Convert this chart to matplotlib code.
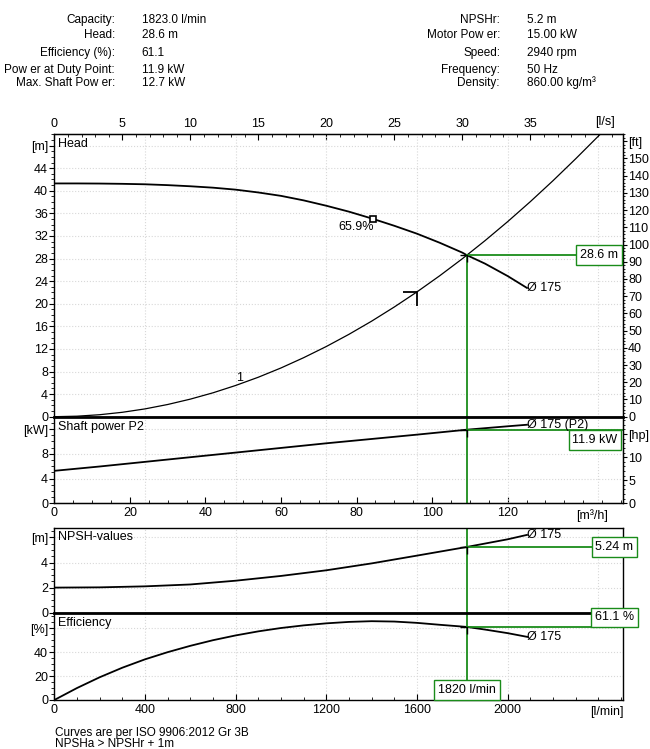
import numpy as np
import matplotlib.pyplot as plt
from matplotlib.path import Path
from matplotlib.ticker import MultipleLocator

plt.rcParams['font.family'] = ['Liberation Sans', 'DejaVu Sans']
plt.rcParams['font.size'] = 9

W_PX, H_PX = 650, 749
GREEN = '#1a8c1a'

# header block
labels_left = ['Capacity:', 'Head:', 'Efficiency (%):', 'Pow er at Duty Point:', 'Max. Shaft Pow er:']
values_left = ['1823.0 l/min', '28.6 m', '61.1', '11.9 kW', '12.7 kW']
labels_right = ['NPSHr:', 'Motor Pow er:', 'Speed:', 'Frequency:', 'Density:']
values_right = ['5.2 m', '15.00 kW', '2940 rpm', '50 Hz', '860.00 kg/m³']

# duty point and best efficiency point (flow in l/min)
duty_q = 1820
duty_head = 28.6
duty_power = 11.9
duty_npsh = 5.24
duty_eff = 61.1
bep_q, bep_head = 1408, 35.0

# pump curves, impeller 175 mm
q_head = [0, 100, 200, 300, 400, 500, 600, 700, 800, 900, 1000, 1100, 1200, 1300,
          1400, 1500, 1600, 1700, 1800, 1820, 1900, 2000, 2085]
head = [41.3, 41.3, 41.28, 41.23, 41.15, 41.0, 40.8, 40.55, 40.2, 39.7, 39.1, 38.3,
        37.35, 36.3, 35.1, 33.8, 32.4, 30.8, 29.05, 28.6, 27.1, 24.9, 22.8]
q_pow = [0, 200, 400, 600, 800, 1000, 1200, 1400, 1600, 1820, 2000, 2085]
power = [5.25, 5.95, 6.7, 7.45, 8.2, 8.95, 9.7, 10.4, 11.1, 11.9, 12.45, 12.7]
q_npsh = [0, 200, 400, 600, 800, 1000, 1200, 1400, 1600, 1820, 2000, 2085]
npsh = [2.0, 2.02, 2.1, 2.25, 2.55, 2.93, 3.38, 3.93, 4.55, 5.24, 5.85, 6.2]
q_eff = [0, 100, 200, 300, 400, 500, 600, 700, 800, 900, 1000, 1100, 1200, 1300,
         1400, 1500, 1600, 1700, 1820, 1900, 2000, 2086]
eff = [0, 10, 19, 27, 34, 40, 45.3, 50, 54, 57.4, 60.2, 62.4, 64.1, 65.3,
       65.9, 65.6, 64.5, 62.9, 61.1, 58.9, 55.9, 52.8]

# system curve "1"
q_sys = [0, 100, 200, 300, 400, 500, 600, 700, 800, 900, 1000, 1100, 1200, 1300,
         1400, 1500, 1600, 1700, 1800, 1900, 2000, 2100, 2200, 2300, 2408]
h_sys = [0, 0.09, 0.35, 0.78, 1.38, 2.16, 3.11, 4.23, 5.53, 6.99, 8.63, 10.45, 12.43,
         14.59, 16.92, 19.43, 22.1, 24.95, 27.97, 31.17, 34.54, 38.08, 41.79, 45.67, 50.0]

QMAX = 2510

fig = plt.figure(figsize=(W_PX / 100, H_PX / 100), dpi=100)


def px_rect(top, bottom, left=54.3, right=623.3):
    return [left / W_PX, 1 - bottom / H_PX, (right - left) / W_PX, (bottom - top) / H_PX]


def style(ax, ymax, step, top_tick, unit, minor):
    ax.set_xlim(0, QMAX)
    ax.set_ylim(0, ymax)
    ax.set_xticks(np.arange(0, 2401, 400))
    ax.tick_params(axis='x', which='both', bottom=False, top=False, labelbottom=False)
    ticks = np.arange(0, top_tick + step / 2, step)
    ax.set_yticks(ticks)
    ax.set_yticklabels(['%g' % t for t in ticks[:-1]] + [unit])
    ax.yaxis.set_minor_locator(MultipleLocator(minor))
    ax.tick_params(axis='y', which='major', direction='out', length=3.5, width=0.8, pad=1)
    ax.tick_params(axis='y', which='minor', direction='out', length=2, width=0.6)
    ax.grid(True, color='#d8d8d8', linestyle=':', linewidth=0.8)
    ax.set_axisbelow(True)
    for s in ax.spines.values():
        s.set_linewidth(1.0)


corner = Path([(-1, 0), (0, 0), (0, -1)], [Path.MOVETO, Path.LINETO, Path.LINETO])
box = dict(boxstyle='square,pad=0.3', fc='white', ec=GREEN, lw=1)

# ---------------- Head
ax_h = fig.add_axes(px_rect(134.3, 416.7))
style(ax_h, 50, 4, 48, '[m]', 1)
ax_h.plot(q_head, head, color='k', lw=1.3)
ax_h.plot(q_sys, h_sys, color='k', lw=0.9)
ax_h.plot(bep_q, bep_head, marker='s', ms=5, mfc='white', mec='k', mew=1.2, zorder=5)
ax_h.annotate('65.9%', (bep_q, bep_head), xytext=(0, -5.5), textcoords='offset points',
              ha='right', va='center')
ax_h.text(q_head[-1], head[-1], 'Ø 175', ha='left', va='center')
ax_h.text(816, 6.8, '1', ha='center', va='center')
ax_h.plot(1600, 22.1, marker=corner, ms=20, mec='k', mfc='none', mew=1.3, ls='none')
ax_h.plot([duty_q, duty_q], [0, duty_head], color=GREEN, lw=1.3)
ax_h.plot([duty_q, QMAX], [duty_head, duty_head], color=GREEN, lw=1.3)
ax_h.plot(duty_q, duty_head, marker=corner, ms=10, mec='k', mfc='none', mew=1.0, ls='none')
ax_h.text(2402, duty_head, '28.6 m', ha='center', va='center', bbox=box, zorder=6)
ax_h.text(0.006, 0.966, 'Head', transform=ax_h.transAxes, ha='left', va='center')

top = ax_h.secondary_xaxis('top', functions=(lambda q: q / 60, lambda s: s * 60))
top.set_xticks(np.arange(0, 36, 5))
top.xaxis.set_minor_locator(MultipleLocator(1))
top.tick_params(which='major', direction='in', length=4, width=0.8, pad=3)
top.tick_params(which='minor', direction='in', length=2, width=0.6)

ft = ax_h.secondary_yaxis('right', functions=(lambda m: m * 3.28084, lambda f: f / 3.28084))
ft_ticks = np.arange(0, 161, 10)
ft.set_yticks(ft_ticks)
ft.set_yticklabels(['%d' % t for t in ft_ticks[:-1]] + ['[ft]'])
ft.yaxis.set_minor_locator(MultipleLocator(2))
ft.tick_params(which='major', direction='out', length=3, width=0.8, pad=0.5)
ft.tick_params(which='minor', direction='out', length=1.5, width=0.6)

# ---------------- Shaft power
ax_p = fig.add_axes(px_rect(416.7, 503.3))
style(ax_p, 14, 4, 12, '[kW]', 1)
ax_p.spines['top'].set_linewidth(2)
ax_p.plot(q_pow, power, color='k', lw=1.3)
ax_p.text(q_pow[-1], power[-1], 'Ø 175 (P2)', ha='left', va='center')
ax_p.axvline(duty_q, color=GREEN, lw=1.3)
ax_p.plot([duty_q, QMAX], [duty_power, duty_power], color=GREEN, lw=1.3)
ax_p.plot(duty_q, duty_power, marker=corner, ms=10, mec='k', mfc='none', mew=1.0, ls='none')
ax_p.text(2385, 10.23, '11.9 kW', ha='center', va='center', bbox=box, zorder=6)
ax_p.text(0.006, 0.878, 'Shaft power P2', transform=ax_p.transAxes, ha='left', va='center')

m3h = ax_p.secondary_xaxis('bottom', functions=(lambda q: q * 0.06, lambda m: m / 0.06))
m3h.set_xticks(np.arange(0, 121, 20))
m3h.xaxis.set_minor_locator(MultipleLocator(5))
m3h.tick_params(which='major', direction='in', length=4, width=0.8, pad=3)
m3h.tick_params(which='minor', direction='in', length=2, width=0.6)

hp = ax_p.secondary_yaxis('right', functions=(lambda k: k * 1.34102, lambda h: h / 1.34102))
hp_ticks = np.arange(0, 16, 5)
hp.set_yticks(hp_ticks)
hp.set_yticklabels(['%d' % t for t in hp_ticks[:-1]] + ['[hp]'])
hp.yaxis.set_minor_locator(MultipleLocator(1))
hp.tick_params(which='major', direction='out', length=3, width=0.8, pad=0.5)
hp.tick_params(which='minor', direction='out', length=1.5, width=0.6)

# ---------------- NPSH
ax_n = fig.add_axes(px_rect(528.0, 612.7))
style(ax_n, 6.75, 2, 6, '[m]', 0.5)
ax_n.plot(q_npsh, npsh, color='k', lw=1.3)
ax_n.text(q_npsh[-1], npsh[-1], 'Ø 175', ha='left', va='center')
ax_n.axvline(duty_q, color=GREEN, lw=1.3)
ax_n.plot([duty_q, QMAX], [duty_npsh, duty_npsh], color=GREEN, lw=1.3)
ax_n.plot(duty_q, duty_npsh, marker=corner, ms=10, mec='k', mfc='none', mew=1.0, ls='none')
ax_n.text(2471, duty_npsh, '5.24 m', ha='center', va='center', bbox=box, zorder=6)
ax_n.text(0.006, 0.897, 'NPSH-values', transform=ax_n.transAxes, ha='left', va='center')

# ---------------- Efficiency
ax_e = fig.add_axes(px_rect(612.7, 700.0))
style(ax_e, 73, 20, 60, '[%]', 5)
ax_e.spines['top'].set_linewidth(2)
ax_e.plot(q_eff, eff, color='k', lw=1.3)
ax_e.text(q_eff[-1], eff[-1], 'Ø 175', ha='left', va='center')
ax_e.plot([duty_q, duty_q], [16, 73], color=GREEN, lw=1.3)
ax_e.plot([duty_q, 2460], [duty_eff, duty_eff], color=GREEN, lw=1.3)
ax_e.plot(duty_q, duty_eff, marker=corner, ms=10, mec='k', mfc='none', mew=1.0, ls='none')
ax_e.text(2471, 69.0, '61.1 %', ha='center', va='center', bbox=box, zorder=6)
ax_e.text(duty_q, 8.4, '1820 l/min', ha='center', va='center', bbox=box, zorder=6)
ax_e.text(0.006, 0.885, 'Efficiency', transform=ax_e.transAxes, ha='left', va='center')
ax_e.tick_params(axis='x', which='both', bottom=True, labelbottom=True, direction='in')
ax_e.set_xticks(np.arange(0, 2001, 400))
ax_e.xaxis.set_minor_locator(MultipleLocator(100))
ax_e.tick_params(axis='x', which='major', length=4, width=0.8, pad=3)
ax_e.tick_params(axis='x', which='minor', length=2, width=0.6)
ax_e.grid(True, color='#d8d8d8', linestyle=':', linewidth=0.8)

# axis unit labels
fig.text(604.7 / W_PX, 1 - 121.7 / H_PX, '[l/s]', ha='center', va='center')
fig.text(592 / W_PX, 1 - 516 / H_PX, '[m³/h]', ha='center', va='center')
fig.text(607 / W_PX, 1 - 711.7 / H_PX, '[l/min]', ha='center', va='center')

# header
rows = [23.3, 38.3, 55.7, 72.7, 86.0]
for y, a, b, c, d in zip(rows, labels_left, values_left, labels_right, values_right):
    fig.text(115 / W_PX, 1 - y / H_PX, a, ha='right', va='baseline', fontsize=8.5)
    fig.text(141.7 / W_PX, 1 - y / H_PX, b, ha='left', va='baseline', fontsize=8.5)
    fig.text(500 / W_PX, 1 - y / H_PX, c, ha='right', va='baseline', fontsize=8.5)
    fig.text(526.7 / W_PX, 1 - y / H_PX, d, ha='left', va='baseline', fontsize=8.5)

# footer
fig.text(55 / W_PX, 1 - 738.5 / H_PX, 'Curves are per ISO 9906:2012 Gr 3B\nNPSHa > NPSHr + 1m',
         ha='left', va='center', fontsize=8.5, linespacing=0.85)

fig.savefig('out.png', dpi=100, facecolor='white')
